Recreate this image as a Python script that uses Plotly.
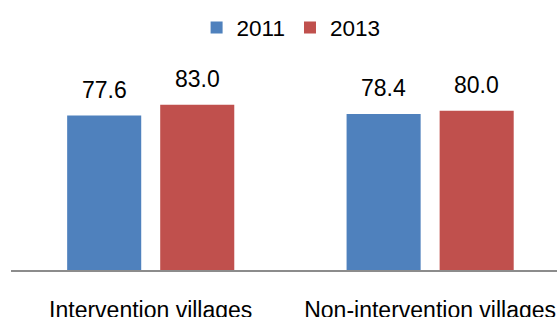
import plotly.graph_objects as go

categories = ["Intervention villages", "Non-intervention villages"]
years = ["2011", "2013"]
values_2011 = [77.6, 78.4]
values_2013 = [83.0, 80.0]
colors = ["#4F81BD", "#C0504D"]

W, H = 557, 317
ml, mr, mt, mb = 11, 0, 71, 47
xrange_ = [-0.5, 1.454]
bargap = 0.334
bargroupgap = 0.204
FONT = "Liberation Sans, Arial, sans-serif"

fig = go.Figure()
for name, vals, col in zip(years, [values_2011, values_2013], colors):
    fig.add_trace(go.Bar(x=categories, y=vals, name=name,
                         marker=dict(color=col, line=dict(width=0))))

# data labels as annotations above each bar
plot_w = W - ml - mr
px_per_cat = plot_w / (xrange_[1] - xrange_[0])
slot = px_per_cat * (1 - bargap) / 2
for i, vals in enumerate([values_2011, values_2013]):
    shift = (i - 0.5) * slot
    for c, v in zip(categories, vals):
        fig.add_annotation(x=c, y=v, text=f"{v:.1f}", showarrow=False,
                           xshift=shift, yshift=11, yanchor="bottom",
                           font=dict(size=23, color="#000000", family=FONT))

fig.update_layout(
    width=W, height=H,
    margin=dict(l=ml, r=mr, t=mt, b=mb, autoexpand=False),
    paper_bgcolor="white", plot_bgcolor="white",
    barmode="group", bargap=bargap, bargroupgap=bargroupgap,
    font=dict(family=FONT, size=23, color="#000000"),
    showlegend=True,
    legend=dict(orientation="h", x=0.513, xanchor="center", y=1.217, yanchor="middle",
                font=dict(size=22.5, family=FONT), itemwidth=30, traceorder="normal",
                bgcolor="rgba(0,0,0,0)"),
)
fig.update_xaxes(type="category", range=xrange_, showline=True, linecolor="#8C8C8C",
                 linewidth=1.5, showgrid=False, ticks="", automargin=False,
                 ticklabelstandoff=19, tickfont=dict(size=23, family=FONT))
fig.update_yaxes(range=[0, 100], visible=False, showgrid=False, zeroline=False)

fig.write_html("out.html", config={"displayModeBar": False},
               post_script="document.body.style.margin='0';document.body.style.overflow='hidden';")
